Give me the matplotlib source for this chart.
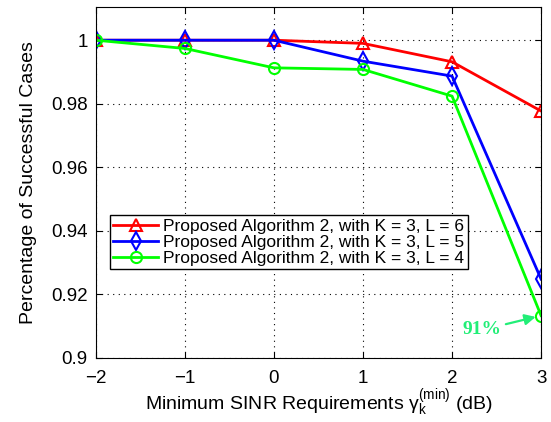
import numpy as np
import matplotlib
matplotlib.use('Agg')
import matplotlib.pyplot as plt

plt.rcParams['font.family'] = ['Liberation Sans', 'DejaVu Sans']
plt.rcParams['mathtext.fontset'] = 'custom'
plt.rcParams['mathtext.rm'] = 'Liberation Sans'
plt.rcParams['mathtext.it'] = 'Liberation Sans:italic'

sinr_db = [-2, -1, 0, 1, 2, 3]
success_l6 = [1.0, 1.0, 1.0, 0.999, 0.9932, 0.9777]
success_l5 = [1.0, 1.0, 1.0, 0.9934, 0.9887, 0.9248]
success_l4 = [1.0, 0.9974, 0.9913, 0.9908, 0.9824, 0.9133]
y_ticks = [0.9, 0.92, 0.94, 0.96, 0.98, 1.0]
y_tick_labels = ['0.9', '0.92', '0.94', '0.96', '0.98', '1']

fig = plt.figure(figsize=(5.51, 4.22), dpi=100)
ax = fig.add_axes([0.174, 0.152, 0.808, 0.831])

ax.plot(sinr_db, success_l6, '-^', color='red', lw=2, ms=9, mfc='none', mew=1.5,
        label='Proposed Algorithm 2, with K = 3, L = 6')
ax.plot(sinr_db, success_l5, '-d', color='blue', lw=2, ms=9, mfc='none', mew=1.5,
        label='Proposed Algorithm 2, with K = 3, L = 5')
ax.plot(sinr_db, success_l4, '-o', color='#00ff00', lw=2, ms=8, mfc='none', mew=1.5,
        label='Proposed Algorithm 2, with K = 3, L = 4')

ax.annotate('91%', xy=(sinr_db[-1], success_l4[-1]), xytext=(2.12, 0.9088),
            fontsize=14, fontweight='bold', family='Liberation Serif', color='#22ee77',
            ha='left', va='center',
            arrowprops=dict(arrowstyle='-|>', color='#22ee77', lw=1.6,
                            shrinkA=1, shrinkB=4, mutation_scale=16))

ax.set_xlim(-2, 3)
ax.set_ylim(0.9, 1.0104)
ax.set_xticks(sinr_db)
ax.set_xticklabels(['\u22122', '\u22121', '0', '1', '2', '3'])
ax.set_yticks(y_ticks)
ax.set_yticklabels(y_tick_labels)
ax.tick_params(labelsize=13.5, direction='in', length=4, top=True, right=True, pad=6)
ax.tick_params(axis='x', pad=9)
ax.grid(True, linestyle=(0, (1, 4)), color='black', lw=0.8)

ax.set_xlabel(r'Minimum SINR Requirements $\mathregular{\gamma_k^{(min)}}$ (dB)',
              fontsize=14, labelpad=0)
ax.set_ylabel('Percentage of Successful Cases', fontsize=14, labelpad=10)

leg = ax.legend(loc='upper left', bbox_to_anchor=(0.031, 0.407), fontsize=12.5,
                fancybox=False, edgecolor='black', framealpha=1,
                handlelength=2.6, borderpad=0.2, labelspacing=0.05,
                handletextpad=0.3, borderaxespad=0)
leg.get_frame().set_linewidth(1)

fig.savefig('out.png', dpi=100)
